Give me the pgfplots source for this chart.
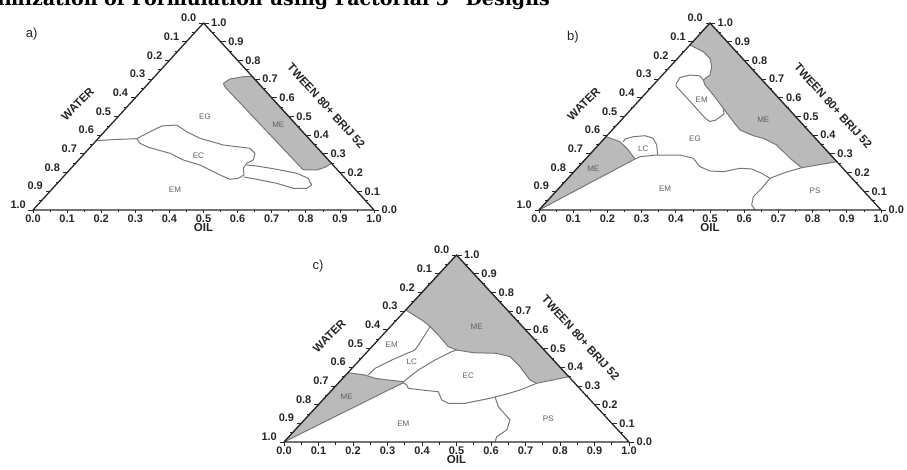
\documentclass[border=0pt]{standalone}
\usepackage{pgfplots}
\pgfplotsset{compat=1.18}
\usepackage{fontspec}
\setmainfont{Liberation Sans}
\newfontfamily\titlefont{DejaVu Serif}
\definecolor{mefill}{RGB}{186,186,186}
\definecolor{bnd}{RGB}{120,120,120}
\definecolor{edgec}{RGB}{40,40,40}
\definecolor{lblc}{RGB}{95,95,95}

\pgfplotsset{
  tern/.style={anchor=south west, scale only axis, xmin=0,xmax=1,ymin=0,ymax=1, hide axis, clip=false},
  region/.style={draw=bnd, line width=1pt, line join=round, fill=mefill, mark=none},
  bound/.style={draw=bnd, line width=1pt, line join=round, mark=none},
}
\tikzset{
  tl/.style={font=\fontsize{11}{11}\selectfont\bfseries, inner sep=0pt, text=black!85},
  axt/.style={font=\fontsize{11.5}{11.5}\selectfont\bfseries, inner sep=0pt, text=black!85},
  rl/.style={font=\fontsize{8}{8}\selectfont, inner sep=0pt, text=lblc},
  pl/.style={font=\fontsize{13}{13}\selectfont, inner sep=0pt, text=black!85},
}

\newcommand{\ternframe}{%
  \addplot[draw=edgec, line width=1.3pt, line join=round, mark=none] coordinates {(0,0) (1,0) (0.5,1) (0,0)};
  \pgfplotsinvokeforeach{0.0,0.1,0.2,0.3,0.4,0.5,0.6,0.7,0.8,0.9,1.0}{%
    \draw[edgec, line width=0.8pt] (axis cs:##1,0) -- ++(0pt,-3.5pt);
    \node[tl, anchor=north, yshift=-4.5pt] at (axis cs:##1,0) {##1};
    \draw[edgec, line width=0.8pt] (axis cs:{0.5*(1-##1)},{1-##1}) -- ++(-4.5pt,0pt);
    \node[tl, anchor=south east, xshift=-7pt, yshift=1pt] at (axis cs:{0.5*(1-##1)},{1-##1}) {##1};
    \draw[edgec, line width=0.8pt] (axis cs:{1-0.5*##1},##1) -- ++(5pt,0pt);
    \node[tl, anchor=west, xshift=7.5pt] at (axis cs:{1-0.5*##1},##1) {##1};
  }
  \pgfplotsinvokeforeach{0.05,0.15,0.25,0.35,0.45,0.55,0.65,0.75,0.85,0.95}{%
    \draw[edgec, line width=0.6pt] (axis cs:##1,0) -- ++(0pt,-2.5pt);
    \draw[edgec, line width=0.6pt] (axis cs:{0.5*(1-##1)},{1-##1}) -- ++(-2.5pt,0pt);
    \draw[edgec, line width=0.6pt] (axis cs:{1-0.5*##1},##1) -- ++(2.5pt,0pt);
  }
  \node[axt, yshift=-18pt] at (axis cs:0.5,0) {OIL};
  \node[axt, rotate=45] at (axis cs:0.131,0.567) {WATER};
  \node[axt, rotate=-48] at (axis cs:0.86,0.556) {TWEEN 80+ BRIJ 52};
}

\begin{document}
\begin{tikzpicture}
\useasboundingbox (0,0) rectangle (907pt,469pt);
\node[overlay, anchor=base east, inner sep=0pt, font=\titlefont\bfseries\fontsize{19}{19}\selectfont] at (550pt,463pt) {Optimization of Formulation using Factorial 3\textsuperscript{2} Designs};

% ---------------- panel a ----------------
\begin{axis}[tern, at={(33pt,259pt)}, width=341pt, height=187pt]
\addplot[region] coordinates {(0.5581,0.6775) (0.5777,0.7005) (0.6167,0.7128) (0.6436,0.7128) (0.8751,0.2497) (0.8563,0.2283) (0.8320,0.2139) (0.7927,0.2139) (0.5630,0.6578) (0.5581,0.6775)};
\addplot[bound] coordinates {(0.1853,0.3706) (0.2405,0.3770) (0.3041,0.3813)};
\addplot[bound] coordinates {(0.3041,0.3813) (0.3431,0.4187) (0.3774,0.4492) (0.4214,0.4545) (0.4507,0.4187) (0.4897,0.3834) (0.5581,0.3476) (0.6364,0.3299) (0.6510,0.3032) (0.6461,0.2674) (0.6267,0.2497) (0.6167,0.2230) (0.6188,0.1872) (0.6021,0.1695) (0.5777,0.1642) (0.5484,0.1872) (0.4897,0.2406) (0.4408,0.2674) (0.4018,0.3032) (0.3381,0.3353) (0.3138,0.3567) (0.3041,0.3813)};
\addplot[bound] coordinates {(0.6267,0.2406) (0.6560,0.2353) (0.7147,0.2176) (0.7733,0.1963) (0.8073,0.1695) (0.8173,0.1337) (0.8026,0.1160) (0.7633,0.1160) (0.7147,0.1428) (0.6560,0.1642) (0.6188,0.1765)};
\node[rl] at (axis cs:0.5044,0.4989) {EG};
\node[rl] at (axis cs:0.7194,0.4545) {ME};
\node[rl] at (axis cs:0.4848,0.2904) {EC};
\node[rl] at (axis cs:0.4164,0.1070) {EM};
\node[pl] at (axis cs:-0.004,0.942) {a)};
\ternframe
\end{axis}

% ---------------- panel b ----------------
\begin{axis}[tern, at={(539pt,259pt)}, width=342pt, height=187pt]
\addplot[region] coordinates {(0,0) (0.1960,0.3920) (0.2368,0.3652) (0.2611,0.3209) (0.2719,0.2941) (0.2807,0.2727) (0,0)};
\addplot[region] coordinates {(0.4412,0.8824) (0.4804,0.8465) (0.5,0.8112) (0.5050,0.7663) (0.5,0.7219) (0.4804,0.6952) (0.4854,0.6684) (0.5096,0.6150) (0.5389,0.5439) (0.5681,0.4722) (0.5877,0.4278) (0.6266,0.3973) (0.6558,0.3834) (0.6950,0.3476) (0.7339,0.2765) (0.7681,0.2262) (0.8709,0.2583) (0.5,1) (0.4412,0.8824)};
\addplot[bound] coordinates {(0.4804,0.6952) (0.4708,0.7166) (0.4415,0.7219) (0.4123,0.7086) (0.4006,0.6738) (0.4006,0.6631) (0.4883,0.4866) (0.5,0.4733) (0.5175,0.4813) (0.5409,0.5134) (0.5389,0.5439)};
\addplot[bound] coordinates {(0.2465,0.3652) (0.2515,0.3797) (0.2757,0.3920) (0.3099,0.3973) (0.3342,0.3834) (0.3442,0.3476) (0.3471,0.2941)};
\addplot[bound] coordinates {(0.2807,0.2727) (0.2953,0.2850) (0.3442,0.2941) (0.4123,0.2941) (0.4512,0.2765) (0.4708,0.2316) (0.5,0.2086) (0.5389,0.2048) (0.5877,0.2230) (0.6219,0.2193) (0.6512,0.1963) (0.6754,0.1695)};
\addplot[bound] coordinates {(0.6754,0.1695) (0.7193,0.2005) (0.7681,0.2262)};
\addplot[bound] coordinates {(0.6754,0.1695) (0.6512,0.1160) (0.6266,0.0711) (0.6219,0.0267) (0.6316,0)};
\node[rl] at (axis cs:0.4757,0.5882) {EM};
\node[rl] at (axis cs:0.4561,0.3797) {EG};
\node[rl] at (axis cs:0.3050,0.3299) {LC};
\node[rl] at (axis cs:0.1588,0.2193) {ME};
\node[rl] at (axis cs:0.3684,0.1160) {EM};
\node[rl] at (axis cs:0.6558,0.4813) {ME};
\node[rl] at (axis cs:0.8070,0.1016) {PS};
\node[pl] at (axis cs:0.0994,0.9267) {b)};
\ternframe
\end{axis}

% ---------------- panel c ----------------
\begin{axis}[tern, at={(284pt,27pt)}, width=345pt, height=187pt]
\addplot[region] coordinates {(0,0) (0.1853,0.3706) (0.2348,0.3583) (0.2638,0.3406) (0.3023,0.3316) (0.3458,0.3225) (0.3458,0.3171) (0,0)};
\addplot[region] coordinates {(0.3529,0.7059) (0.3991,0.6524) (0.4183,0.6257) (0.4472,0.5722) (0.4762,0.5096) (0.5006,0.4920) (0.5487,0.4775) (0.6165,0.4743) (0.6551,0.4561) (0.6841,0.4027) (0.7130,0.3316) (0.7325,0.3139) (0.8254,0.3492) (0.5,1) (0.3529,0.7059)};
\addplot[bound] coordinates {(0.2443,0.3583) (0.2638,0.3941) (0.3122,0.4385) (0.3797,0.4920) (0.3991,0.5455) (0.4232,0.6166)};
\addplot[bound] coordinates {(0.3458,0.3225) (0.3893,0.3850) (0.4377,0.4385) (0.4861,0.4829) (0.5006,0.4920)};
\addplot[bound] coordinates {(0.3458,0.3171) (0.3557,0.3048) (0.3603,0.2872) (0.3991,0.2781) (0.4472,0.2690) (0.4571,0.2246) (0.4762,0.2070) (0.5246,0.2070) (0.5971,0.2337) (0.6455,0.2567) (0.6841,0.2781) (0.7325,0.3139)};
\addplot[bound] coordinates {(0.6116,0.2422) (0.6212,0.1888) (0.6551,0.1176) (0.6455,0.0642) (0.6165,0.0283) (0.6116,0)};
\node[rl] at (axis cs:0.3122,0.5187) {EM};
\node[rl] at (axis cs:0.3701,0.4294) {LC};
\node[rl] at (axis cs:0.1817,0.2422) {ME};
\node[rl] at (axis cs:0.3458,0.1000) {EM};
\node[rl] at (axis cs:0.5586,0.6166) {ME};
\node[rl] at (axis cs:0.5342,0.3529) {EC};
\node[rl] at (axis cs:0.7661,0.1267) {PS};
\node[pl] at (axis cs:0.0986,0.9412) {c)};
\ternframe
\end{axis}
\end{tikzpicture}
\end{document}
